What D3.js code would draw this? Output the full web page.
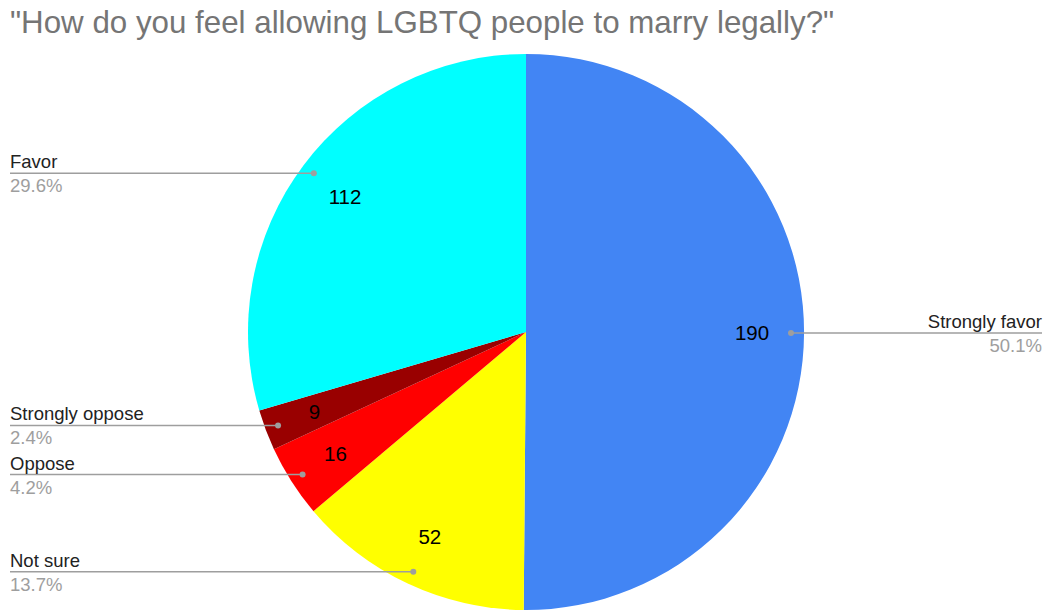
<!DOCTYPE html>
<html>
<head>
<meta charset="utf-8">
<script src="https://cdn.jsdelivr.net/npm/d3@7"></script>
<style>
  html, body { margin: 0; padding: 0; background: #fff; }
  svg { display: block; font-family: "Liberation Sans", Arial, sans-serif; }
</style>
</head>
<body>
<svg id="chart" width="1048" height="610"></svg>
<script>
const title = "\"How do you feel allowing LGBTQ people to marry legally?\"";
const categories = ["Strongly favor", "Not sure", "Oppose", "Strongly oppose", "Favor"];
const values = [190, 52, 16, 9, 112];
const colors = ["#4285f4", "#ffff00", "#ff0000", "#990000", "#00ffff"];

const W = 1048, H = 610;
const cx = 526, cy = 332, R = 278;
const svg = d3.select("#chart");

svg.append("text")
  .attr("x", 10).attr("y", 33)
  .attr("font-size", 31.3)
  .attr("fill", "#757575")
  .text(title);

const total = d3.sum(values);
const data = categories.map((c, i) => ({ name: c, value: values[i], color: colors[i] }));
const pie = d3.pie().value(d => d.value).sort(null).startAngle(0).endAngle(2 * Math.PI);
const arcs = pie(data);
const arc = d3.arc().innerRadius(0).outerRadius(R);
const valueArc = d3.arc().innerRadius(226).outerRadius(226);
const dotArc = d3.arc().innerRadius(265).outerRadius(265);

const g = svg.append("g").attr("transform", `translate(${cx},${cy})`);
g.selectAll("path.slice").data(arcs).enter().append("path")
  .attr("class", "slice")
  .attr("d", arc)
  .attr("fill", d => d.data.color);

g.selectAll("text.val").data(arcs).enter().append("text")
  .attr("class", "val")
  .attr("transform", d => `translate(${valueArc.centroid(d)})`)
  .attr("text-anchor", "middle")
  .attr("dy", "0.36em")
  .attr("font-size", 20.5)
  .attr("fill", "#000")
  .text(d => d.data.value);

const fmt = d3.format(".1%");
const lab = svg.append("g");
arcs.forEach(d => {
  const [px, py] = dotArc.centroid(d);
  const x = cx + px, y = cy + py;
  const right = x > cx;
  const xEnd = right ? W - 6 : 10;
  lab.append("line")
    .attr("x1", x).attr("y1", y).attr("x2", xEnd).attr("y2", y)
    .attr("stroke", "#9e9e9e").attr("stroke-width", 1.5);
  lab.append("circle")
    .attr("cx", x).attr("cy", y).attr("r", 3)
    .attr("fill", "#9e9e9e");
  lab.append("text")
    .attr("x", xEnd).attr("y", y - 5)
    .attr("text-anchor", right ? "end" : "start")
    .attr("font-size", 18.5).attr("fill", "#222")
    .text(d.data.name);
  lab.append("text")
    .attr("x", xEnd).attr("y", y + 19)
    .attr("text-anchor", right ? "end" : "start")
    .attr("font-size", 18.5).attr("fill", "#9e9e9e")
    .text(fmt(d.data.value / total));
});
</script>
</body>
</html>
